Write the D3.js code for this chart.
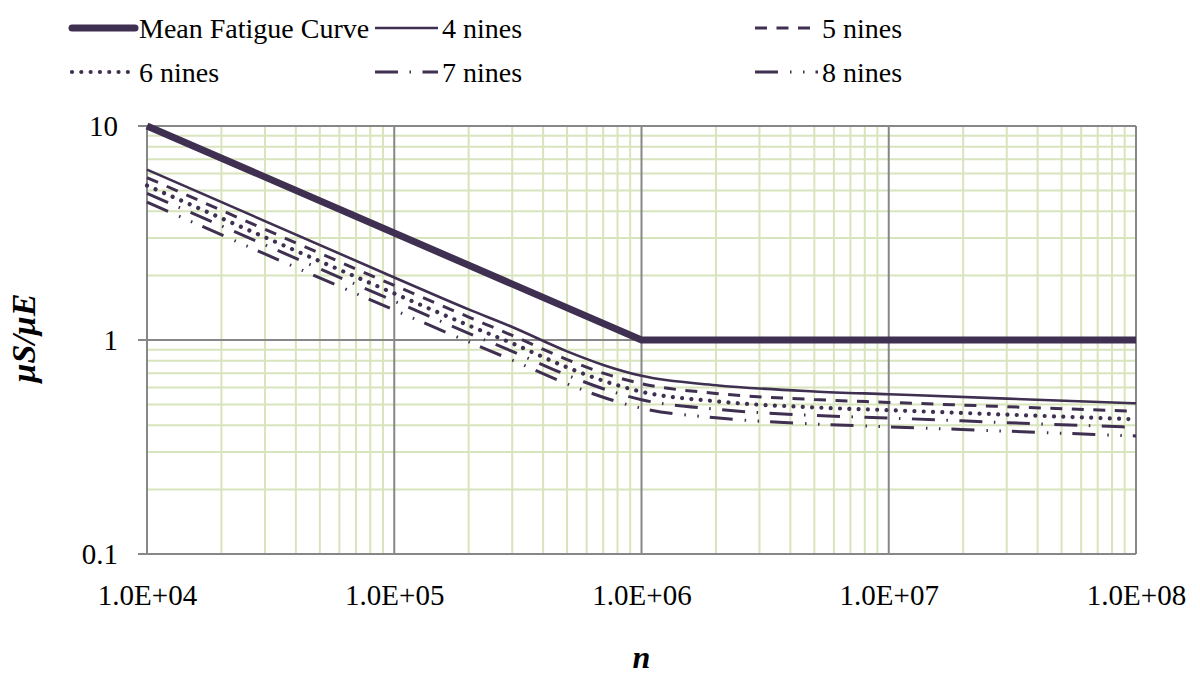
<!DOCTYPE html>
<html>
<head>
<meta charset="utf-8">
<script src="https://cdn.jsdelivr.net/npm/d3@7/dist/d3.min.js"></script>
<style>
  html, body { margin: 0; padding: 0; background: #fff; }
  svg { display: block; }
  text { font-family: "Liberation Serif"; fill: #000; font-weight: normal; }
</style>
</head>
<body>
<svg id="chart" width="1200" height="677"></svg>
<script>
// Cycle counts at which each curve is sampled
const cycles = [1e4, 1e5, 2e5, 3e5, 5e5, 7e5, 1e6, 2e6, 5e6, 1e7, 3e7, 1e8];

// Mean fatigue curve (knee at 1e6)
const meanCycles = [1e4, 1e6, 1e8];
const meanRatio  = [10, 1, 1];

// Reliability curves, μS/μE
const nines4 = [6.25, 1.96, 1.39, 1.15, 0.885, 0.765, 0.68, 0.615, 0.575, 0.558, 0.532, 0.506];
const nines5 = [5.74, 1.80, 1.28, 1.05, 0.81, 0.70, 0.625, 0.563, 0.527, 0.511, 0.488, 0.464];
const nines6 = [5.27, 1.65, 1.17, 0.965, 0.745, 0.645, 0.573, 0.517, 0.484, 0.470, 0.448, 0.426];
const nines7 = [4.84, 1.52, 1.075, 0.885, 0.685, 0.592, 0.526, 0.475, 0.444, 0.432, 0.411, 0.391];
const nines8 = [4.41, 1.38, 0.98, 0.805, 0.624, 0.540, 0.480, 0.433, 0.405, 0.393, 0.375, 0.356];

const seriesNames = ["Mean Fatigue Curve", "4 nines", "5 nines", "6 nines", "7 nines", "8 nines"];

const xTickValues = [1e4, 1e5, 1e6, 1e7, 1e8];
const xTickLabels = ["1.0E+04", "1.0E+05", "1.0E+06", "1.0E+07", "1.0E+08"];
const yTickValues = [0.1, 1, 10];
const yTickLabels = ["0.1", "1", "10"];

const ink = "#3f2f50";
const styles = [
  { width: 7,   dash: null },
  { width: 2.6, dash: null },
  { width: 3,   dash: "12,9.5" },
  { width: 4.2, dash: "0.01,9.3", cap: "round" },
  { width: 3,   dash: "23,11.5,1.5,11.5" },
  { width: 3,   dash: "23,12,1.5,11.5,1.5,11" }
];

const svg = d3.select("#chart");
const plotLeft = 147, plotRight = 1136, plotTop = 126, plotBottom = 554;

const x = d3.scaleLog().domain([1e4, 1e8]).range([plotLeft, plotRight]);
const y = d3.scaleLog().domain([0.1, 10]).range([plotBottom, plotTop]);

// Minor grid lines
const minorX = [], minorY = [];
for (let d = 1e4; d < 1e8; d *= 10) for (let k = 2; k <= 9; k++) minorX.push(d * k);
for (let d = 0.1; d < 10 - 1e-9; d *= 10) for (let k = 2; k <= 9; k++) minorY.push(d * k);

const grid = svg.append("g");
grid.selectAll("line.mx").data(minorX).join("line")
  .attr("x1", d => x(d)).attr("x2", d => x(d)).attr("y1", plotTop).attr("y2", plotBottom)
  .attr("stroke", "#d8e4bc").attr("stroke-width", 2);
grid.selectAll("line.my").data(minorY).join("line")
  .attr("y1", d => y(d)).attr("y2", d => y(d)).attr("x1", plotLeft).attr("x2", plotRight)
  .attr("stroke", "#d8e4bc").attr("stroke-width", 2);
// Major grid lines
grid.selectAll("line.Mx").data(xTickValues).join("line")
  .attr("x1", d => x(d)).attr("x2", d => x(d)).attr("y1", plotTop).attr("y2", plotBottom)
  .attr("stroke", "#878787").attr("stroke-width", 2);
grid.selectAll("line.My").data(yTickValues).join("line")
  .attr("y1", d => y(d)).attr("y2", d => y(d)).attr("x1", plotLeft - 9).attr("x2", plotRight)
  .attr("stroke", "#878787").attr("stroke-width", 2);

// Axes (labels only; lines drawn with the grid)
const yAxis = d3.axisLeft(y).tickValues(yTickValues)
  .tickFormat((d, i) => yTickLabels[i]).tickSize(0).tickPadding(29);
svg.append("g").attr("transform", `translate(${plotLeft},0)`).call(yAxis)
  .call(g => g.select(".domain").remove())
  .selectAll("text").style("font-size", "29px").style("font-family", "Liberation Serif");

const xAxis = d3.axisBottom(x).tickValues(xTickValues)
  .tickFormat((d, i) => xTickLabels[i]).tickSize(0).tickPadding(30);
svg.append("g").attr("transform", `translate(0,${plotBottom})`).call(xAxis)
  .call(g => g.select(".domain").remove())
  .selectAll("text").style("font-size", "29px").style("font-family", "Liberation Serif");

// Axis titles
svg.append("text").attr("x", x(1e6)).attr("y", 668).attr("text-anchor", "middle")
  .style("font-size", "32px").style("font-style", "italic").style("font-weight", "bold")
  .text("n");
svg.append("text").attr("transform", `translate(35,${y(1) - 2}) rotate(-90)`)
  .attr("text-anchor", "middle")
  .style("font-size", "34px").style("font-style", "italic").style("font-weight", "bold")
  .text("μS/μE");

// Curves
const line = d3.line().x(d => x(d[0])).y(d => y(d[1]));
const curved = d3.line().x(d => x(d[0])).y(d => y(d[1])).curve(d3.curveMonotoneX);

const plot = svg.append("g");
const curves = [nines8, nines7, nines6, nines5, nines4];
const idx = [5, 4, 3, 2, 1];
curves.forEach((vals, j) => {
  const s = styles[idx[j]];
  plot.append("path")
    .datum(cycles.map((c, i) => [c, vals[i]]))
    .attr("d", curved)
    .attr("fill", "none").attr("stroke", ink)
    .attr("stroke-width", s.width)
    .attr("stroke-dasharray", s.dash)
    .attr("stroke-linecap", s.cap || "butt");
});
plot.append("path")
  .datum(meanCycles.map((c, i) => [c, meanRatio[i]]))
  .attr("d", line)
  .attr("fill", "none").attr("stroke", ink)
  .attr("stroke-width", styles[0].width).attr("stroke-linejoin", "miter");

// Legend
const legendPos = [
  { x: 72,  y: 28 }, { x: 375, y: 28 }, { x: 755, y: 28 },
  { x: 72,  y: 72 }, { x: 375, y: 72 }, { x: 755, y: 72 }
];
const legend = svg.append("g");
seriesNames.forEach((name, i) => {
  const p = legendPos[i], s = styles[i];
  legend.append("line")
    .attr("x1", p.x).attr("x2", p.x + 63).attr("y1", p.y).attr("y2", p.y)
    .attr("stroke", ink).attr("stroke-width", s.width)
    .attr("stroke-dasharray", s.dash)
    .attr("stroke-linecap", i === 0 ? "round" : (s.cap || "butt"));
  legend.append("text")
    .attr("x", p.x + 67).attr("y", p.y).attr("dy", "0.35em")
    .style("font-size", "28px").style("font-weight", "normal")
    .style("font-family", "Liberation Serif")
    .text(name);
});
</script>
</body>
</html>
